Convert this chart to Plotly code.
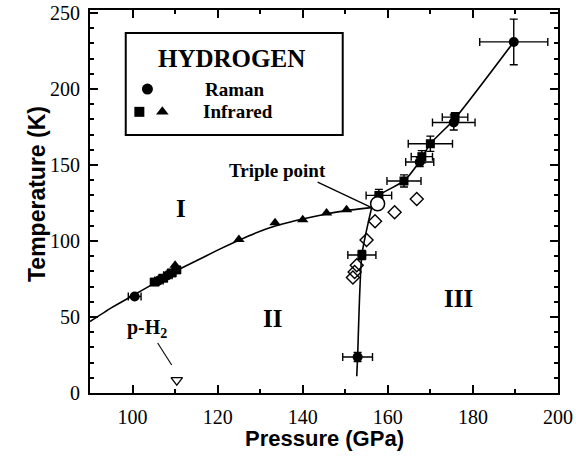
import plotly.graph_objects as go

# ---- data (pressure GPa, temperature K) ----
# boundary lines
line_12_p = [90, 95, 100, 105, 110, 115, 120, 125, 130, 135, 140, 145, 150, 156.2]
line_12_t = [47, 56, 64, 72, 80, 87, 94, 100.5, 106.5, 111, 114.5, 117.5, 120, 122]
line_23_p = [152.7, 152.9, 153.9, 156.2]
line_23_t = [11, 23.7, 90.8, 122]
line_13_p = [156.2, 157.9, 163.8, 167.5, 170, 175.6, 189.6]
line_13_t = [122, 130, 139.5, 152.5, 164, 180, 231]

# Raman (filled circles)
raman_p = [100.5, 106.2, 108.3, 152.9, 167.5, 175.5, 189.6]
raman_t = [63.5, 74, 77.5, 23.7, 152, 178, 231]
raman_perr = [1.5, 1, 1, 3.5, 3.3, 5, 8]
raman_terr = [0, 0, 0, 3, 3, 5, 15]

# Infrared (filled squares)
irsq_p = [105.2, 107.2, 109.2, 110.3, 153.9, 157.9, 163.8, 168, 170, 175.8]
irsq_t = [73, 75.5, 79, 81, 90.8, 130, 139.5, 155.5, 164, 181.5]
irsq_perr = [1, 1, 1, 1, 3.3, 3, 4, 2.5, 5.2, 3]
irsq_terr = [0, 0, 0, 0, 3, 4, 4, 4, 5, 3]

# Infrared (filled triangles)
irtri_p = [110, 125, 133.5, 140, 145.6, 150.3]
irtri_t = [84, 101, 112, 114, 118.5, 120.5]

# open diamonds
dia_p = [151.8, 152.2, 152.7, 155, 157, 161.6, 166.8]
dia_t = [76, 79.6, 84, 100.7, 113, 119, 127.6]

# p-H2 point and triple point
ph2_p = [110.4]
ph2_t = [8.5]
triple_p = [157.6]
triple_t = [124.5]

serif = "Liberation Serif"
sans = "Liberation Sans"

fig = go.Figure()

for xs, ys in [(line_12_p, line_12_t), (line_23_p, line_23_t), (line_13_p, line_13_t)]:
    fig.add_trace(go.Scatter(x=xs, y=ys, mode='lines', line=dict(color='black', width=1.6, shape='spline', smoothing=0.6)))

# annotation lines (arrow to triple point, p-H2 pointer)
fig.add_trace(go.Scatter(x=[143.5, 156.2], y=[138.8, 122], mode='lines', line=dict(color='black', width=1.3)))
fig.add_trace(go.Scatter(x=[105.9, 109.2], y=[32.9, 18.4], mode='lines', line=dict(color='black', width=1.1)))

fig.add_trace(go.Scatter(x=dia_p, y=dia_t, mode='markers',
                         marker=dict(symbol='diamond-open', size=10, color='black', line=dict(width=1.4))))

eb = dict(color='black', thickness=1.4, width=4)
fig.add_trace(go.Scatter(x=irsq_p, y=irsq_t, mode='markers',
                         marker=dict(symbol='square', size=9, color='black'),
                         error_x=dict(type='data', array=irsq_perr, **eb),
                         error_y=dict(type='data', array=irsq_terr, **eb)))
fig.add_trace(go.Scatter(x=raman_p, y=raman_t, mode='markers',
                         marker=dict(symbol='circle', size=10, color='black'),
                         error_x=dict(type='data', array=raman_perr, **eb),
                         error_y=dict(type='data', array=raman_terr, **eb)))
fig.add_trace(go.Scatter(x=irtri_p, y=irtri_t, mode='markers',
                         marker=dict(symbol='triangle-up', size=10, color='black')))
fig.add_trace(go.Scatter(x=triple_p, y=triple_t, mode='markers',
                         marker=dict(symbol='circle', size=14, color='white', line=dict(color='black', width=1.5))))
fig.add_trace(go.Scatter(x=ph2_p, y=ph2_t, mode='markers',
                         marker=dict(symbol='triangle-down-open', size=10, color='black', line=dict(width=1.3))))

# legend box drawn by hand
fig.add_shape(type='rect', x0=98.4, x1=149.4, y0=169.7, y1=236.8, line=dict(color='black', width=2))
fig.add_trace(go.Scatter(x=[103.5], y=[200], mode='markers', marker=dict(symbol='circle', size=11, color='black')))
fig.add_trace(go.Scatter(x=[101.6], y=[185], mode='markers', marker=dict(symbol='square', size=10, color='black')))
fig.add_trace(go.Scatter(x=[107], y=[185], mode='markers', marker=dict(symbol='triangle-up', size=11, color='black')))

def txt(x, y, s, size, xanchor='center'):
    fig.add_annotation(x=x, y=y, text=s, showarrow=False, xanchor=xanchor,
                       font=dict(family=serif, size=size, color='black'))

txt(123.3, 220.4, '<b>HYDROGEN</b>', 25)
txt(116.5, 200, '<b>Raman</b>', 19, 'left')
txt(116.2, 185, '<b>Infrared</b>', 19, 'left')
txt(134.1, 146.7, '<b>Triple point</b>', 19)
txt(111.5, 121.7, '<b>I</b>', 25)
txt(132.9, 49.3, '<b>II</b>', 25)
txt(176.5, 62.5, '<b>III</b>', 25)
txt(103.5, 42.5, '<b>p-H<sub>2</sub></b>', 20)

# axis titles as paper annotations (fixed pixel placement)
fig.add_annotation(xref='paper', yref='paper', x=0.5, y=-0.157, text='<b>Pressure (GPa)</b>',
                   showarrow=False, font=dict(family=sans, size=22, color='black'))
fig.add_annotation(xref='paper', yref='paper', x=-0.145, y=0.52, text='<b>Temperature (K)</b>',
                   showarrow=False, textangle=-90, font=dict(family=sans, size=23, color='black'))

axis_common = dict(showline=True, linewidth=2, linecolor='black', mirror='ticks',
                   ticks='inside', ticklen=8, tickwidth=1.5, tickcolor='black',
                   showgrid=False, zeroline=False, automargin=False, ticklabeloverflow='allow',
                   tickfont=dict(family=serif, size=20, color='black'))

fig.update_xaxes(range=[90, 200], tickmode='linear', tick0=100, dtick=20,
                 minor=dict(dtick=10, ticklen=4, ticks='inside', tickcolor='black'),
                 ticklabelstandoff=5, **axis_common)
fig.update_yaxes(range=[0, 252], tickmode='linear', tick0=0, dtick=50,
                 minor=dict(dtick=10, ticklen=4, ticks='inside', tickcolor='black'),
                 ticklabelstandoff=4, **axis_common)

fig.update_layout(width=576, height=467, showlegend=False,
                  plot_bgcolor='white', paper_bgcolor='white',
                  margin=dict(l=90, r=18, t=10, b=74))

# drop the browser's default 8 px body margin so the figure fills the window
fig.write_html("out.html", config={'displayModeBar': False},
               post_script="document.body.style.margin='0';")
